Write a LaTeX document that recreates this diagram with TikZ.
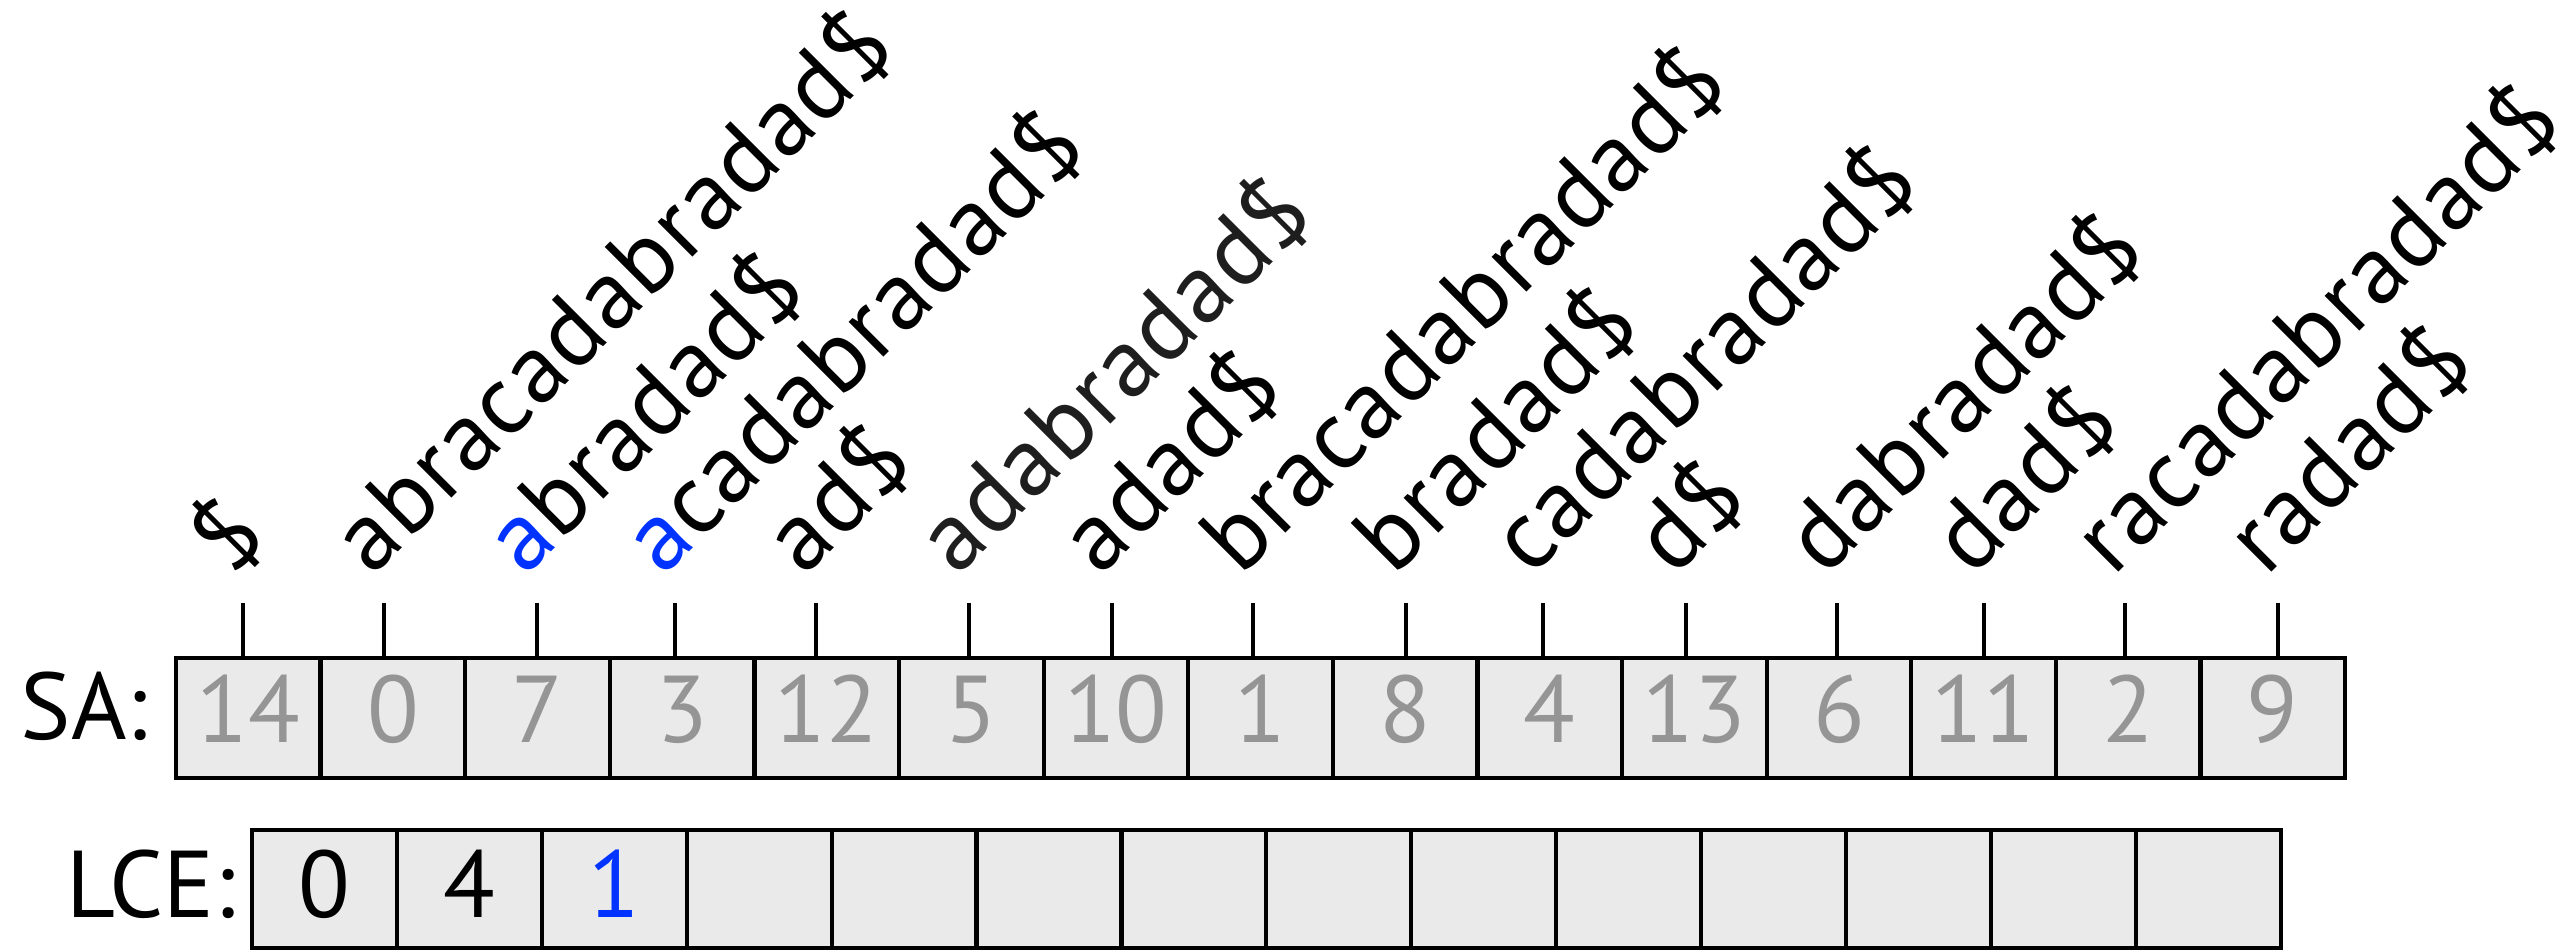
\documentclass[tikz,border=0pt]{standalone}
\usepackage{fontspec}
\setmainfont{PT Sans}
\newfontfamily\suffont[LetterSpace=1.5]{PT Sans}
\definecolor{cellfill}{HTML}{EAEAEA}
\definecolor{numgray}{HTML}{959595}
\definecolor{hiblue}{HTML}{0033FF}
\definecolor{darktext}{HTML}{1E1E1E}
\tikzset{
  lbl/.style={font=\fontsize{27}{32}\selectfont},
  sacell/.style={draw, line width=1.2pt, fill=cellfill, minimum width=1.446cm, minimum height=1.2cm, inner sep=0pt,
                 text height=0.5cm, text depth=0cm, text=numgray, font=\fontsize{27}{32}\selectfont},
  lcecell/.style={draw, line width=1.2pt, fill=cellfill, minimum width=1.449cm, minimum height=1.18cm, inner sep=0pt,
                 text height=0.58cm, text depth=0cm, font=\fontsize{27}{32}\selectfont},
  suffix/.style={rotate=45, anchor=base west, inner sep=0pt, font=\suffont\fontsize{28}{32}\selectfont},
  tickline/.style={line width=1.2pt}
}
\begin{document}
\begin{tikzpicture}
\useasboundingbox (0,0) rectangle (25.75,9.5);
% SA cells
\foreach \v [count=\i from 0] in {14,0,7,3,12,5,10,1,8,4,13,6,11,2,9} {
  \node[sacell] (sa\i) at ({2.483+1.446*\i},2.32) {\v};
}
% LCE cells
\foreach \v [count=\i from 0] in {0,4,\textcolor{hiblue}{1},,,,,,,,,,,} {
  \node[lcecell] (lce\i) at ({3.2445+1.449*\i},0.61) {\v};
}
\node[lbl, anchor=base east, inner sep=0pt] (salabel) at (1.48,2.10) {SA:};
\node[lbl, anchor=base east, inner sep=0pt] (lcelabel) at (2.36,0.32) {LCE:};
% suffix labels and ticks
\foreach \x/\t [count=\i from 0] in {
  2.43/{\$},
  3.84/{abracadabradad\$},
  5.37/{\textcolor{hiblue}{a}bradad\$},
  6.75/{\textcolor{hiblue}{a}cadabradad\$},
  8.16/{ad\$},
  9.69/{\textcolor{darktext}{adabradad\$}},
  11.12/{adad\$},
  12.53/{bracadabradad\$},
  14.06/{bradad\$},
  15.43/{cadabradad\$},
  16.86/{d\$},
  18.37/{dabradad\$},
  19.84/{dad\$},
  21.25/{racadabradad\$},
  22.78/{radad\$}} {
  \node[suffix] (suf\i) at ({\x-0.12},3.72) {\t};
  \coordinate (tk\i) at (\x,3.47);
  \draw[tickline] (tk\i) -- (tk\i |- sa\i.north);
}
\end{tikzpicture}
\end{document}
